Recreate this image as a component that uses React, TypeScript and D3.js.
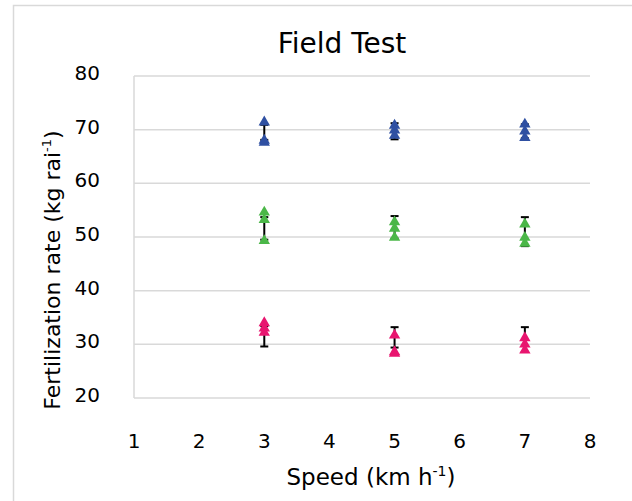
import React from 'react';
import * as d3 from 'd3';

// speeds tested (km/h)
const speeds = [3, 5, 7];

// replicate readings per speed
const blueReps = [[71.4, 68.0, 67.6], [70.8, 69.9, 68.9], [71.0, 69.7, 68.5]];
const greenReps = [[54.6, 53.2, 49.3], [52.8, 51.6, 49.9], [52.4, 49.9, 48.8]];
const pinkReps = [[34.0, 33.0, 32.2], [31.7, 28.6, 28.3], [31.2, 30.0, 28.9]];

// mean and error for error bars
const blueMean = [69.5, 69.7, 69.7];
const blueErr = [1.4, 1.5, 1.3];
const greenMean = [51.6, 51.8, 51.0];
const greenErr = [2.1, 2.1, 2.7];
const pinkMean = [31.5, 31.3, 30.9];
const pinkErr = [1.9, 1.9, 2.3];

const xTicks = [1, 2, 3, 4, 5, 6, 7, 8];
const yTicks = [20, 30, 40, 50, 60, 70, 80];

const series = [
  { reps: blueReps, mean: blueMean, err: blueErr, color: '#2F50A2' },
  { reps: greenReps, mean: greenMean, err: greenErr, color: '#4BB748' },
  { reps: pinkReps, mean: pinkMean, err: pinkErr, color: '#E8156F' },
];

const font = '"DejaVu Sans", Verdana, sans-serif';

export default function App() {
  const x = d3.scaleLinear().domain([1, 8]).range([134, 590]);
  const y = d3.scaleLinear().domain([20, 80]).range([398, 76]);
  const tri = d3.symbol().type(d3.symbolTriangle).size(56)();
  const cap = 4;

  return (
    <svg width={632} height={501} style={{ position: 'absolute', left: 0, top: 0 }}>
      <rect x={0} y={0} width={632} height={501} fill="#fff" />
      <rect x={13.5} y={5.5} width={700} height={600} fill="none" stroke="#D9D9D9" strokeWidth={1.5} />

      {/* gridlines */}
      {yTicks.map(t => (
        <line key={t} x1={x(1)} x2={x(8)} y1={y(t)} y2={y(t)} stroke="#D9D9D9" strokeWidth={1.5} />
      ))}
      <line x1={x(1)} x2={x(1)} y1={y(80)} y2={y(20)} stroke="#D9D9D9" strokeWidth={1.5} />

      {/* tick labels */}
      {yTicks.map(t => (
        <text key={t} x={100} y={y(t) + 4} textAnchor="end" fontSize={20} fontFamily={font} fill="#000">{t}</text>
      ))}
      {xTicks.map(t => (
        <text key={t} x={x(t)} y={448} textAnchor="middle" fontSize={20} fontFamily={font} fill="#000">{t}</text>
      ))}

      {/* error bars */}
      {series.map((s, si) =>
        speeds.map((sp, i) => {
          const cx = x(sp);
          const hi = y(s.mean[i] + s.err[i]);
          const lo = y(s.mean[i] - s.err[i]);
          return (
            <g key={`e${si}-${i}`} stroke="#000" strokeWidth={2}>
              <line x1={cx} x2={cx} y1={hi} y2={lo} />
              <line x1={cx - cap} x2={cx + cap} y1={hi} y2={hi} />
              <line x1={cx - cap} x2={cx + cap} y1={lo} y2={lo} />
            </g>
          );
        })
      )}

      {/* markers */}
      {series.map((s, si) =>
        speeds.map((sp, i) =>
          s.reps[i].map((v, k) => (
            <path key={`m${si}-${i}-${k}`} d={tri} transform={`translate(${x(sp)},${y(v)})`} fill={s.color} />
          ))
        )
      )}

      {/* title and axis labels */}
      <text x={342} y={53} textAnchor="middle" fontSize={28} fontFamily={font} fill="#000">Field Test</text>
      <text x={371} y={485} textAnchor="middle" fontSize={23} fontFamily={font} fill="#000">
        Speed (km h<tspan fontSize={14} dy={-9}>-1</tspan><tspan dy={9}>)</tspan>
      </text>
      <text transform="translate(60,270) rotate(-90)" textAnchor="middle" fontSize={22} fontFamily={font} fill="#000">
        Fertilization rate (kg rai<tspan fontSize={13} dy={-9}>-1</tspan><tspan dy={9}>)</tspan>
      </text>
    </svg>
  );
}
